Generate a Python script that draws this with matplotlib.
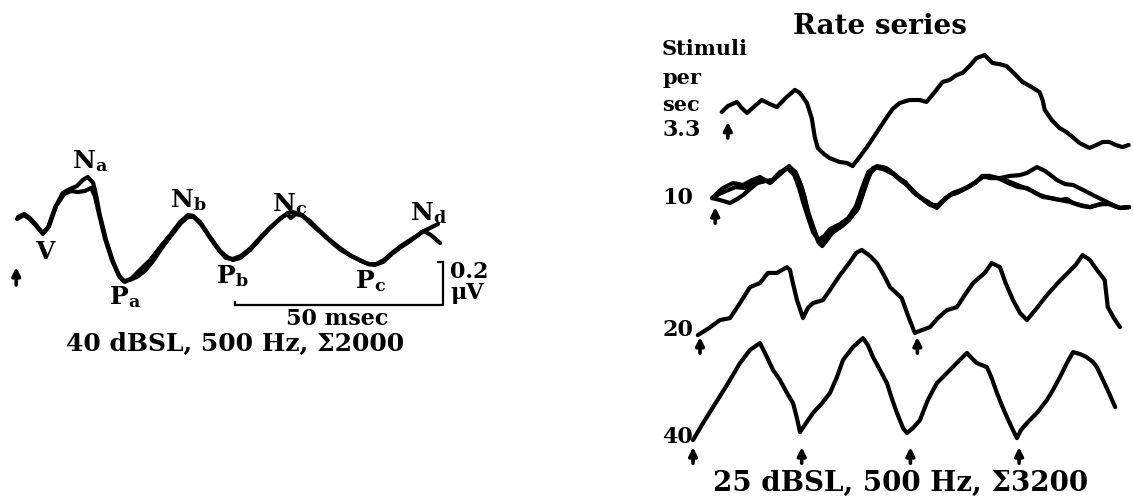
import matplotlib
matplotlib.use('Agg')
import matplotlib.pyplot as plt

plt.rcParams['font.family'] = 'DejaVu Serif'
plt.rcParams['font.weight'] = 'bold'
plt.rcParams['mathtext.fontset'] = 'dejavuserif'

# ---- left panel: 40 dBSL, two superimposed averages (time in ms, amplitude in uV)
left_t_a = [0.7, 2.2, 3.6, 5.3, 6.7, 7.9, 9.6, 11.5, 13.2, 14.9, 16.3, 17.5, 18.8, 19.5,
            20.4, 21.9, 23.6, 25.2, 26.4, 28.1, 30.0, 32.5, 34.9, 37.3, 39.7, 41.6, 42.8,
            44.5, 46.9, 49.3, 51.0, 52.4, 54.1, 56.5, 58.9, 61.3, 63.7, 65.6, 66.8, 68.5,
            70.9, 73.3, 75.7, 78.1, 80.5, 82.9, 84.9, 86.5, 88.5, 90.6, 92.5, 95.0, 96.9,
            97.8, 99.8, 101.7]
left_amp_a = [0.107, 0.121, 0.102, 0.065, 0.028, 0.056, 0.149, 0.219, 0.237, 0.251, 0.279,
              0.293, 0.265, 0.209, 0.116, 0.0, -0.102, -0.172, -0.195, -0.177, -0.140,
              -0.093, -0.033, 0.023, 0.084, 0.116, 0.112, 0.084, 0.014, -0.051, -0.079,
              -0.093, -0.084, -0.047, 0.005, 0.056, 0.098, 0.126, 0.130, 0.121, 0.088,
              0.042, 0.0, -0.037, -0.070, -0.093, -0.112, -0.116, -0.102, -0.065, -0.037,
              -0.005, 0.023, 0.037, 0.056, 0.074]
left_t_b = [0.5, 2.2, 3.8, 5.5, 6.7, 8.2, 9.9, 11.8, 13.5, 15.1, 16.8, 18.3, 19.2, 20.2,
            21.6, 23.3, 25.0, 26.2, 27.6, 29.3, 31.2, 33.2, 35.3, 37.5, 39.9, 41.6, 43.0,
            44.7, 46.9, 49.0, 50.7, 52.4, 54.3, 56.7, 59.1, 61.5, 63.9, 65.4, 66.3, 67.5,
            69.2, 71.2, 73.6, 76.0, 78.4, 80.8, 83.2, 85.1, 86.8, 88.7, 90.9, 92.8, 95.0,
            96.6, 98.3, 100.0, 102.2]
left_amp_b = [0.098, 0.116, 0.093, 0.056, 0.033, 0.065, 0.158, 0.214, 0.228, 0.223, 0.228,
              0.242, 0.205, 0.121, 0.009, -0.093, -0.167, -0.191, -0.186, -0.172, -0.144,
              -0.098, -0.037, 0.019, 0.079, 0.107, 0.107, 0.074, 0.009, -0.047, -0.084,
              -0.088, -0.074, -0.037, 0.014, 0.060, 0.102, 0.121, 0.102, 0.121, 0.112,
              0.074, 0.033, -0.009, -0.047, -0.074, -0.098, -0.112, -0.112, -0.093, -0.056,
              -0.028, 0.0, 0.019, 0.042, 0.023, -0.014]

# ---- right panel: rate series, time in ms after the first stimulus of each row
r33_t = [-1.4, 0.0, 2.1, 3.2, 4.4, 5.7, 7.8, 9.7, 11.3, 13.3, 15.4, 16.6, 18.2, 19.3, 20.0,
         20.7, 22.1, 23.4, 25.7, 27.4, 28.7, 30.3, 32.0, 34.3, 36.6, 37.9, 39.5, 41.8, 44.1,
         45.7, 47.6, 49.4, 51.0, 52.6, 54.0, 55.6, 57.2, 59.1, 60.2, 60.9, 62.5, 64.1, 66.0,
         67.8, 69.9, 71.7, 72.4, 72.9, 74.5, 76.3, 77.9, 79.3, 80.9, 83.2, 84.8, 86.2, 87.8,
         89.2, 90.8, 92.2]
r33_amp = [0.037, 0.065, 0.084, 0.056, 0.033, 0.056, 0.093, 0.074, 0.060, 0.102, 0.140,
           0.126, 0.079, 0.009, -0.079, -0.130, -0.158, -0.177, -0.195, -0.200, -0.214,
           -0.172, -0.126, -0.056, 0.014, 0.051, 0.079, 0.093, 0.093, 0.084, 0.130, 0.177,
           0.186, 0.209, 0.219, 0.251, 0.288, 0.302, 0.279, 0.265, 0.260, 0.251, 0.214,
           0.177, 0.153, 0.130, 0.093, 0.047, 0.0, -0.037, -0.056, -0.079, -0.107, -0.130,
           -0.116, -0.102, -0.102, -0.116, -0.126, -0.116]

r10_t_a = [-0.7, 0.7, 1.8, 4.1, 6.4, 8.5, 10.3, 12.6, 14.5, 16.8, 18.4, 19.5, 20.5, 21.1,
           22.3, 23.4, 24.1, 25.5, 26.4, 28.7, 30.3, 32.6, 33.8, 34.9, 36.3, 38.6, 40.2,
           41.8, 43.7, 45.3, 47.1, 49.0, 51.0, 52.4, 54.0, 55.6, 57.0, 58.6, 60.2, 61.6,
           63.2, 65.5, 67.8, 70.1, 71.7, 74.0, 75.9, 78.6, 80.5, 82.3, 84.6, 86.9, 89.7,
           91.5, 93.1, 95.2]
r10_amp_a = [0.009, 0.037, 0.056, 0.079, 0.070, 0.093, 0.107, 0.079, 0.116, 0.153, 0.130,
             0.079, 0.019, -0.047, -0.116, -0.172, -0.205, -0.177, -0.140, -0.112, -0.093,
             -0.047, 0.023, 0.093, 0.149, 0.153, 0.135, 0.107, 0.084, 0.047, 0.014, -0.009,
             -0.037, -0.005, 0.023, 0.033, 0.047, 0.065, 0.088, 0.107, 0.107, 0.102, 0.112,
             0.116, 0.126, 0.153, 0.135, 0.093, 0.074, 0.070, 0.047, 0.023, -0.005, -0.023,
             -0.037, -0.033]
r10_t_b = [-0.7, 1.1, 3.4, 5.1, 6.4, 8.0, 9.7, 11.5, 13.1, 14.9, 16.6, 18.2, 19.3, 20.2,
           21.4, 22.5, 23.7, 25.1, 26.4, 28.7, 30.6, 32.4, 33.8, 35.2, 36.8, 39.1, 41.4,
           43.7, 45.5, 47.6, 49.4, 51.0, 52.9, 54.5, 56.3, 58.2, 59.8, 61.4, 63.2, 65.5,
           67.4, 69.7, 71.7, 73.6, 75.4, 77.5, 79.3, 80.9, 82.3, 84.4, 86.2, 88.0, 90.1,
           91.7, 93.1, 95.2]
r10_amp_b = [0.009, 0.0, -0.014, 0.005, 0.023, 0.051, 0.079, 0.088, 0.093, 0.130, 0.149,
             0.116, 0.056, -0.009, -0.084, -0.149, -0.186, -0.167, -0.135, -0.112, -0.084,
             -0.028, 0.056, 0.130, 0.153, 0.140, 0.116, 0.079, 0.037, 0.005, -0.023, -0.033,
             0.005, 0.028, 0.042, 0.060, 0.079, 0.112, 0.112, 0.098, 0.079, 0.060, 0.056,
             0.033, 0.014, 0.009, 0.0, 0.005, -0.014, -0.028, -0.033, -0.023, -0.014,
             -0.028, -0.037, -0.033]
r10_t_c = [-0.7, 0.9, 2.5, 4.6, 6.9, 9.0, 10.8, 12.9, 14.7, 17.0, 18.6, 19.8, 20.7, 21.6,
           22.8, 23.7, 24.6, 25.7, 26.9, 29.2, 30.8, 32.9, 34.3, 35.6, 37.2, 39.3, 40.9,
           42.5, 44.4, 46.2, 48.0, 49.9, 51.3, 52.9, 54.7, 56.6, 58.4, 60.0, 61.6, 63.2,
           65.5, 67.8, 70.1, 72.4, 74.7, 77.0, 79.3, 81.6, 83.9, 86.2, 88.5, 90.8, 93.1, 95.2]
r10_amp_c = [0.009, 0.028, 0.042, 0.060, 0.056, 0.079, 0.093, 0.084, 0.116, 0.158, 0.126,
             0.065, 0.0, -0.070, -0.140, -0.195, -0.214, -0.186, -0.153, -0.121, -0.093,
             -0.037, 0.047, 0.121, 0.158, 0.149, 0.126, 0.093, 0.065, 0.028, 0.0, -0.023,
             -0.023, 0.009, 0.033, 0.047, 0.065, 0.084, 0.112, 0.102, 0.102, 0.084, 0.065,
             0.047, 0.023, 0.009, 0.0, -0.009, -0.023, -0.033, -0.019, -0.019, -0.037, -0.033]

r20_t = [-0.5, 2.1, 4.6, 6.9, 9.2, 11.5, 13.8, 15.6, 17.7, 20.0, 20.7, 21.2, 22.3, 23.7,
         24.8, 26.0, 28.3, 29.9, 32.2, 34.5, 35.9, 37.2, 39.1, 40.7, 42.3, 43.7, 46.4, 47.8,
         49.4, 51.0, 52.9, 54.7, 56.8, 59.1, 60.9, 62.8, 65.5, 67.1, 69.0, 70.3, 72.0, 73.6,
         75.2, 77.5, 79.8, 82.3, 84.6, 86.4, 88.0, 89.7, 91.3, 93.1, 93.8, 95.2, 96.6]
r20_amp = [-0.163, -0.130, -0.093, -0.084, -0.014, 0.060, 0.079, 0.126, 0.126, 0.153, 0.140,
           0.093, 0.0, -0.084, -0.037, -0.014, 0.0, 0.047, 0.116, 0.177, 0.219, 0.233, 0.205,
           0.172, 0.116, 0.060, 0.009, -0.070, -0.153, -0.140, -0.126, -0.084, -0.047,
           -0.033, 0.023, 0.079, 0.126, 0.172, 0.153, 0.079, 0.0, -0.060, -0.093, -0.037,
           0.023, 0.079, 0.126, 0.163, 0.209, 0.186, 0.140, 0.093, -0.033, -0.084, -0.126]

r40_t = [0.0, 2.3, 4.6, 7.8, 10.8, 13.1, 15.4, 17.0, 18.4, 20.0, 21.6, 23.0, 23.9, 24.6,
         26.0, 27.6, 29.7, 31.5, 33.1, 34.5, 36.8, 39.1, 40.2, 41.4, 43.0, 44.6, 45.7, 46.9,
         48.3, 49.2, 50.6, 52.2, 54.0, 56.1, 59.1, 60.9, 63.0, 64.1, 65.3, 67.6, 68.7, 69.9,
         71.0, 72.2, 73.6, 74.5, 75.4, 76.8, 79.1, 81.4, 82.8, 84.4, 86.0, 87.4, 89.0, 90.5,
         92.0, 92.9, 94.3, 95.9, 97.1]
r40_amp = [-0.186, -0.107, -0.033, 0.070, 0.172, 0.233, 0.265, 0.200, 0.140, 0.093, 0.033,
           -0.014, -0.084, -0.149, -0.107, -0.060, -0.014, 0.033, 0.107, 0.186, 0.247,
           0.288, 0.256, 0.200, 0.140, 0.079, 0.009, -0.060, -0.130, -0.153, -0.130, -0.093,
           0.0, 0.079, 0.140, 0.177, 0.219, 0.195, 0.172, 0.153, 0.102, 0.033, -0.023,
           -0.079, -0.140, -0.177, -0.140, -0.107, -0.060, 0.0, 0.047, 0.107, 0.172, 0.223,
           0.214, 0.200, 0.177, 0.153, 0.093, 0.023, -0.033]

rate_labels = ['3.3', '10', '20', '40']
stim_times = [[0], [0], [0, 50], [0, 25, 50, 75]]   # ms, one arrow per stimulus

W, H = 1133, 499
fig = plt.figure(figsize=(W / 100, H / 100), dpi=100)
fig.patch.set_facecolor('white')


def fx(x):
    return x / W


def fy(y):
    return 1 - y / H


def arrow(ax, t, tail, head):
    ax.annotate('', xy=(t, head), xytext=(t, tail),
                arrowprops=dict(arrowstyle='-|>', color='black', lw=2.6,
                                mutation_scale=12, shrinkA=0, shrinkB=0))


line_kw = dict(color='black', lw=3.0, solid_joinstyle='round', solid_capstyle='round')

# ---------------- left panel
ax_l = fig.add_axes([0, fy(360), fx(500), 220 / H])
ax_l.set_xlim(-3.6, 116.6)
ax_l.set_ylim(-0.558, 0.465)
ax_l.axis('off')
ax_l.plot(left_t_a, left_amp_a, **line_kw)
ax_l.plot(left_t_b, left_amp_b, **line_kw)
arrow(ax_l, 0.3, -0.209, -0.126)

# 50 msec / 0.2 uV calibration
cal_t0, cal_y0 = 52.9, -0.302
ax_l.plot([cal_t0, cal_t0 + 50, cal_t0 + 50], [cal_y0, cal_y0, cal_y0 + 0.2], color='black', lw=1.6)
ax_l.plot([cal_t0, cal_t0], [cal_y0, cal_y0 + 0.015], color='black', lw=1.6)
ax_l.plot([cal_t0 + 48.8, cal_t0 + 50], [cal_y0 + 0.2, cal_y0 + 0.2], color='black', lw=1.6)

peak_labels = [('N', 'a', 90, 161), ('N', 'b', 188, 200), ('N', 'c', 290, 204),
               ('N', 'd', 428, 213), ('P', 'a', 125, 297), ('P', 'b', 232, 276),
               ('P', 'c', 370, 281)]
for big, sub, x, y in peak_labels:
    fig.text(fx(x), fy(y), r'$\mathbf{%s}_{\mathbf{%s}}$' % (big, sub), fontsize=18,
             ha='center', va='center')
fig.text(fx(45), fy(252), 'V', fontsize=18, ha='center', va='center')
fig.text(fx(450), fy(272), '0.2', fontsize=16, ha='left', va='center')
fig.text(fx(450), fy(293), 'μV', fontsize=16, ha='left', va='center')
fig.text(fx(337), fy(319), '50 msec', fontsize=16, ha='center', va='center')
fig.text(fx(235), fy(343), '40 dBSL, 500 Hz, Σ2000', fontsize=18, ha='center', va='center')

# ---------------- right panel
ax_r = fig.add_axes([fx(680), 0, fx(453), 1])
ax_r.set_xlim(-3.0, 101.2)
ax_r.set_ylim(-0.460, 1.860)
ax_r.axis('off')

row_shift = [8.0, 5.1, 1.6, 0.0]          # ms, horizontal stagger of each row
row_offset = [1.302, 0.930, 0.465, 0.0]   # uV, vertical offset of each row
arrow_head = [-0.009, -0.033, -0.172, -0.219]
arrow_len = 0.075

rows = [[(r33_t, r33_amp)],
        [(r10_t_a, r10_amp_a), (r10_t_b, r10_amp_b), (r10_t_c, r10_amp_c)],
        [(r20_t, r20_amp)],
        [(r40_t, r40_amp)]]
for i, traces in enumerate(rows):
    for t, a in traces:
        ax_r.plot([v + row_shift[i] for v in t], [v + row_offset[i] for v in a], **line_kw)
    for s in stim_times[i]:
        head = arrow_head[i] + row_offset[i]
        arrow(ax_r, s + row_shift[i], head - arrow_len, head)

fig.text(fx(880), fy(26), 'Rate series', fontsize=20, ha='center', va='center')
for txt, y in [('Stimuli', 49), ('per', 78), ('sec', 105)]:
    fig.text(fx(662), fy(y), txt, fontsize=15, ha='left', va='center')
for lab, y in zip(rate_labels, [130, 198, 330, 437]):
    fig.text(fx(662), fy(y), lab, fontsize=16, ha='left', va='center')
fig.text(fx(901), fy(483), '25 dBSL, 500 Hz, Σ3200', fontsize=20, ha='center', va='center')

fig.savefig('out.png', dpi=100, facecolor='white')
